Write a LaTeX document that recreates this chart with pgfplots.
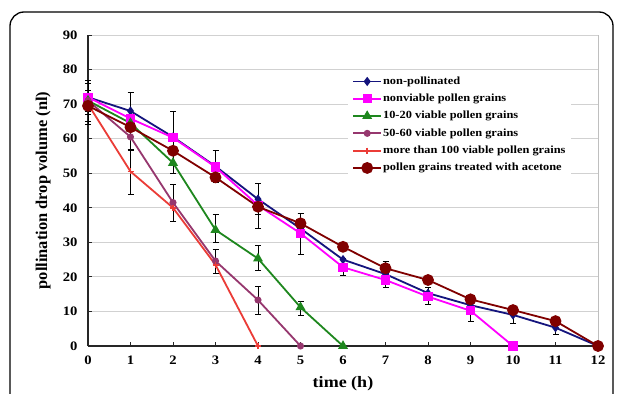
\documentclass[border=0pt]{standalone}
\usepackage{fontspec}
\setmainfont{Liberation Serif}[FakeStretch=1.13]
\newfontfamily\plainserif{Liberation Serif}
\usepackage{pgfplots}
\pgfplotsset{compat=1.18}
\definecolor{cnavy}{RGB}{20,20,125}
\definecolor{cpink}{RGB}{255,0,255}
\definecolor{cgreen}{RGB}{30,135,30}
\definecolor{cpurple}{RGB}{150,55,110}
\definecolor{cred}{RGB}{235,60,55}
\definecolor{cbrown}{RGB}{128,0,0}
\begin{document}
\begin{tikzpicture}[x=1bp,y=1bp]
\useasboundingbox (0,0) rectangle (625,393);
\fill[white] (0,0) rectangle (625,393);
\draw[line width=1.3bp, rounded corners=14bp] (10,-30) rectangle (613,381);
\begin{axis}[
  at={(88bp,47bp)}, anchor=south west, scale only axis,
  width=510bp, height=311bp,
  xmin=0, xmax=12, ymin=0, ymax=90,
  xtick={0,1,...,12}, ytick={0,10,...,90},
  axis lines*=left,
  axis line style={line width=1.8bp, black!85},
  tick align=inside, major tick length=4bp,
  tick style={line width=1bp, black!85},
  ymajorgrids, grid style={black!18, line width=0.8bp},
  /pgf/number format/assume math mode=true,
  tick label style={font=\fontsize{13}{13}\selectfont\bfseries},
  xticklabel style={yshift=-6bp},
  yticklabel style={xshift=-7bp},
  xlabel={time (h)},
  ylabel={\plainserif pollination drop volume (nl)},
  xlabel style={font=\fontsize{16}{16}\selectfont\bfseries, at={(axis description cs:0.5,-0.122)}, anchor=center},
  ylabel style={font=\fontsize{16.5}{16.5}\selectfont\bfseries, at={(axis description cs:-0.088,0.5)}, anchor=center},
  clip=false,
  legend cell align=left,
  legend image code/.code={\draw[mark repeat=2,mark phase=2] plot coordinates {(0bp,0bp)(14bp,0bp)(28bp,0bp)};},
  legend style={at={(0.51,0.881)}, anchor=north west, draw=none, fill=white,
    font=\fontsize{11}{11}\selectfont\bfseries, inner xsep=4bp, inner ysep=3bp,
    nodes={inner sep=1bp, text height=8bp, text depth=2.5bp}, row sep=4.8bp},
  error bars/error bar style={black, line width=0.7bp},
  error bars/error mark options={rotate=90, mark size=3bp, black, line width=0.7bp},
]
\draw[black!25, line width=0.8bp] (rel axis cs:1,0) -- (rel axis cs:1,1);
% error bars
\addplot[draw=none, mark=none, forget plot, error bars/.cd, y dir=both, y explicit] coordinates {
 (0,72) +- (0,5) (1,68) +- (0,5.5) (4,42.5) +- (0,4.5) (10,9) +- (0,2.5) (11,5) +- (0,1.5)};
\addplot[draw=none, mark=none, forget plot, error bars/.cd, y dir=both, y explicit] coordinates {
 (0,72) +- (0,4) (2,60.5) +- (0,7.5) (3,52) +- (0,4.5) (5,32.5) +- (0,6) (6,23) +- (0,2.5) (7,19) +- (0,2) (8,14.5) +- (0,2.5) (9,10) +- (0,3)};
\addplot[draw=none, mark=none, forget plot, error bars/.cd, y dir=both, y explicit] coordinates {
 (0,71) +- (0,3) (2,53) +- (0,3) (3,34) +- (0,4) (4,25.5) +- (0,3.5) (5,11) +- (0,2)};
\addplot[draw=none, mark=none, forget plot, error bars/.cd, y dir=both, y explicit] coordinates {
 (0,71) +- (0,6) (1,60.5) +- (0,4) (2,41.5) +- (0,5.3) (3,24.5) +- (0,3.4) (4,13.3) +- (0,4)};
\addplot[draw=none, mark=none, forget plot, error bars/.cd, y dir=both, y explicit] coordinates {
 (0,70) +- (0,6) (1,50.5) +- (0,6.5)};
\addplot[draw=none, mark=none, forget plot, error bars/.cd, y dir=both, y explicit] coordinates {
 (4,40.5) +- (0,6.5) (5,35.5) +- (0,3) (7,22.5) +- (0,2)};
% series
\addplot[cnavy, line width=1.8bp, mark=diamond*, mark size=3.2bp, mark options={solid}] coordinates {
 (0,72) (1,68) (2,60.5) (3,52) (4,42.5) (5,34) (6,25) (7,20.8) (8,15.3) (9,11.8) (10,9) (11,5.3) (12,0)};
\addlegendentry{non-pollinated}
\addplot[cpink, line width=1.8bp, mark=square*, mark size=3.8bp, mark options={solid}] coordinates {
 (0,72) (1,65.8) (2,60.3) (3,51.8) (4,40.7) (5,32.6) (6,22.8) (7,19.1) (8,14.3) (9,10.2) (10,0)};
\addlegendentry{nonviable pollen grains}
\addplot[cgreen, line width=1.8bp, mark=triangle*, mark size=4bp, mark options={solid}] coordinates {
 (0,71) (1,64.5) (2,53) (3,33.6) (4,25.3) (5,11.2) (6,0)};
\addlegendentry{10-20 viable pollen grains}
\addplot[cpurple, line width=1.8bp, mark=*, mark size=2.6bp, mark options={solid}] coordinates {
 (0,71) (1,60.5) (2,41.5) (3,24.6) (4,13.3) (5,0)};
\addlegendentry{50-60 viable pollen grains}
\addplot[cred, line width=1.8bp, mark=+, mark size=3bp, mark options={solid}] coordinates {
 (0,70) (1,50.5) (2,40) (3,23.5) (4,0)};
\addlegendentry{more than 100 viable pollen grains}
\addplot[cbrown, line width=1.8bp, mark=*, mark size=5bp, mark options={solid}] coordinates {
 (0,69.5) (1,63.3) (2,56.5) (3,48.8) (4,40.3) (5,35.5) (6,28.7) (7,22.5) (8,19.1) (9,13.5) (10,10.4) (11,7.2) (12,0)};
\addlegendentry{pollen grains treated with acetone}
\end{axis}
\end{tikzpicture}
\end{document}
